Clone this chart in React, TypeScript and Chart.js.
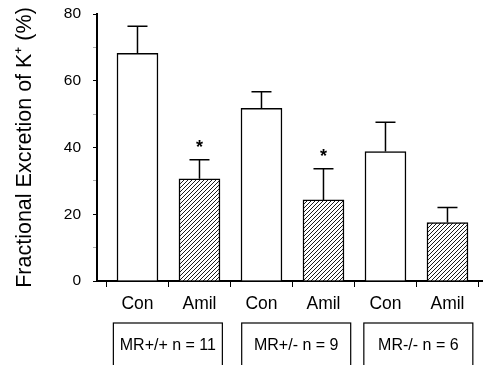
import React, { useEffect, useRef } from "react";
import { Chart, registerables } from "chart.js";

Chart.register(...registerables);

const CATEGORIES = ["Con", "Amil", "Con", "Amil", "Con", "Amil"];
const VALUES = [68.2, 30.6, 51.7, 24.3, 38.8, 17.5];
const ERRORS = [8.1, 5.7, 5.0, 9.3, 8.8, 4.5];
const STARS = ["", "*", "", "*", "", ""];
const GROUPS = ["MR+/+ n = 11", "MR+/- n = 9", "MR-/- n = 6"];
const Y_TICKS = [0, 10, 20, 30, 40, 50, 60, 70, 80];

const FONT = "'Liberation Sans', Arial, Helvetica, sans-serif";

function makeHatch(): CanvasPattern | string {
  const c = document.createElement("canvas");
  c.width = 4;
  c.height = 4;
  const g = c.getContext("2d");
  if (!g) return "#fff";
  g.fillStyle = "#fff";
  g.fillRect(0, 0, 4, 4);
  g.strokeStyle = "#000";
  g.lineWidth = 0.9;
  g.beginPath();
  g.moveTo(0, 4);
  g.lineTo(4, 0);
  g.moveTo(-1, 1);
  g.lineTo(1, -1);
  g.moveTo(3, 5);
  g.lineTo(5, 3);
  g.stroke();
  const p = g.createPattern(c, "repeat");
  return p || "#fff";
}

const overlayPlugin = {
  id: "overlay",
  afterDatasetsDraw(chart: any) {
    const { ctx, scales } = chart;
    const xs = scales.x;
    const ys = scales.y;
    ctx.save();
    ctx.strokeStyle = "#000";
    ctx.lineWidth = 1.5;
    VALUES.forEach((v, i) => {
      const x = xs.getPixelForValue(i);
      const y0 = ys.getPixelForValue(v);
      const y1 = ys.getPixelForValue(v + ERRORS[i]);
      ctx.beginPath();
      ctx.moveTo(x, y0);
      ctx.lineTo(x, y1);
      ctx.moveTo(x - 10, y1);
      ctx.lineTo(x + 10, y1);
      ctx.stroke();
      if (STARS[i]) {
        ctx.fillStyle = "#000";
        ctx.font = `bold 18px ${FONT}`;
        ctx.textAlign = "center";
        ctx.textBaseline = "middle";
        ctx.fillText(STARS[i], x, y1 - 12);
      }
    });
    const centers = [0.49, 2.56, 4.53];
    const boxW = 109;
    const top = 323;
    ctx.lineWidth = 1.2;
    ctx.font = `16px ${FONT}`;
    ctx.textAlign = "center";
    ctx.textBaseline = "middle";
    GROUPS.forEach((g, i) => {
      const cx = xs.getPixelForValue(centers[i]);
      ctx.strokeRect(cx - boxW / 2, top, boxW, 60);
      ctx.fillStyle = "#000";
      ctx.fillText(g, cx, top + 23);
    });
    ctx.restore();
  },
};

export default function App() {
  const ref = useRef<HTMLCanvasElement>(null);
  useEffect(() => {
    if (!ref.current) return;
    const hatch = makeHatch();
    const chart = new Chart(ref.current, {
      type: "bar",
      data: {
        datasets: [
          {
            data: VALUES.map((y, i) => ({ x: i, y })),
            backgroundColor: CATEGORIES.map((c) => (c === "Amil" ? hatch : "#fff")),
            borderColor: "#000",
            borderWidth: 1.5,
            barThickness: 41,
          } as any,
        ],
      },
      options: {
        animation: false,
        responsive: false,
        layout: { padding: { top: 14, right: 0, left: 0, bottom: 0 } },
        plugins: { legend: { display: false }, tooltip: { enabled: false } },
        scales: {
          x: {
            type: "linear",
            offset: false,
            min: -0.653,
            max: 5.573,
            afterBuildTicks: (s: any) => {
              s.ticks = CATEGORIES.map((_, i) => ({ value: i }));
            },
            afterFit: (s: any) => {
              s.height = 84;
              s.paddingLeft = 0;
              s.paddingRight = 0;
            },
            grid: {
              drawOnChartArea: false,
              drawTicks: true,
              tickLength: 6,
              tickColor: "#000",
              tickWidth: 1,
            },
            border: { display: true, color: "#000", width: 2 },
            ticks: {
              autoSkip: false,
              maxRotation: 0,
              padding: 7,
              color: "#000",
              font: { family: FONT, size: 17.5 },
              callback: (v: any) => CATEGORIES[Number(v)] ?? "",
            },
          },
          y: {
            min: 0,
            max: 80,
            afterBuildTicks: (s: any) => {
              s.ticks = Y_TICKS.map((v) => ({ value: v }));
            },
            afterFit: (s: any) => {
              s.width = 97;
              s.paddingTop = 0;
              s.paddingBottom = 0;
            },
            grid: {
              drawOnChartArea: false,
              drawTicks: true,
              tickLength: 4,
              tickColor: (c: any) => (c.tick && c.tick.value % 20 === 0 ? "#000" : "#aaa"),
            },
            border: { display: true, color: "#000", width: 2 },
            ticks: {
              autoSkip: false,
              padding: 12,
              color: "#000",
              font: { family: FONT, size: 15.5 },
              callback: (v: any) => (Number(v) % 20 === 0 ? String(v) : ""),
            },
            title: {
              display: true,
              text: "Fractional Excretion of K\u207A (%)",
              color: "#000",
              font: { family: FONT, size: 21.5 },
              padding: { top: 12, bottom: 0 },
            },
          },
        },
      },
      plugins: [overlayPlugin],
    });
    return () => chart.destroy();
  }, []);
  return (
    <div style={{ position: "fixed", left: 0, top: 0, width: 483, height: 365, background: "#fff" }}>
      <canvas ref={ref} width={483} height={365} />
    </div>
  );
}
